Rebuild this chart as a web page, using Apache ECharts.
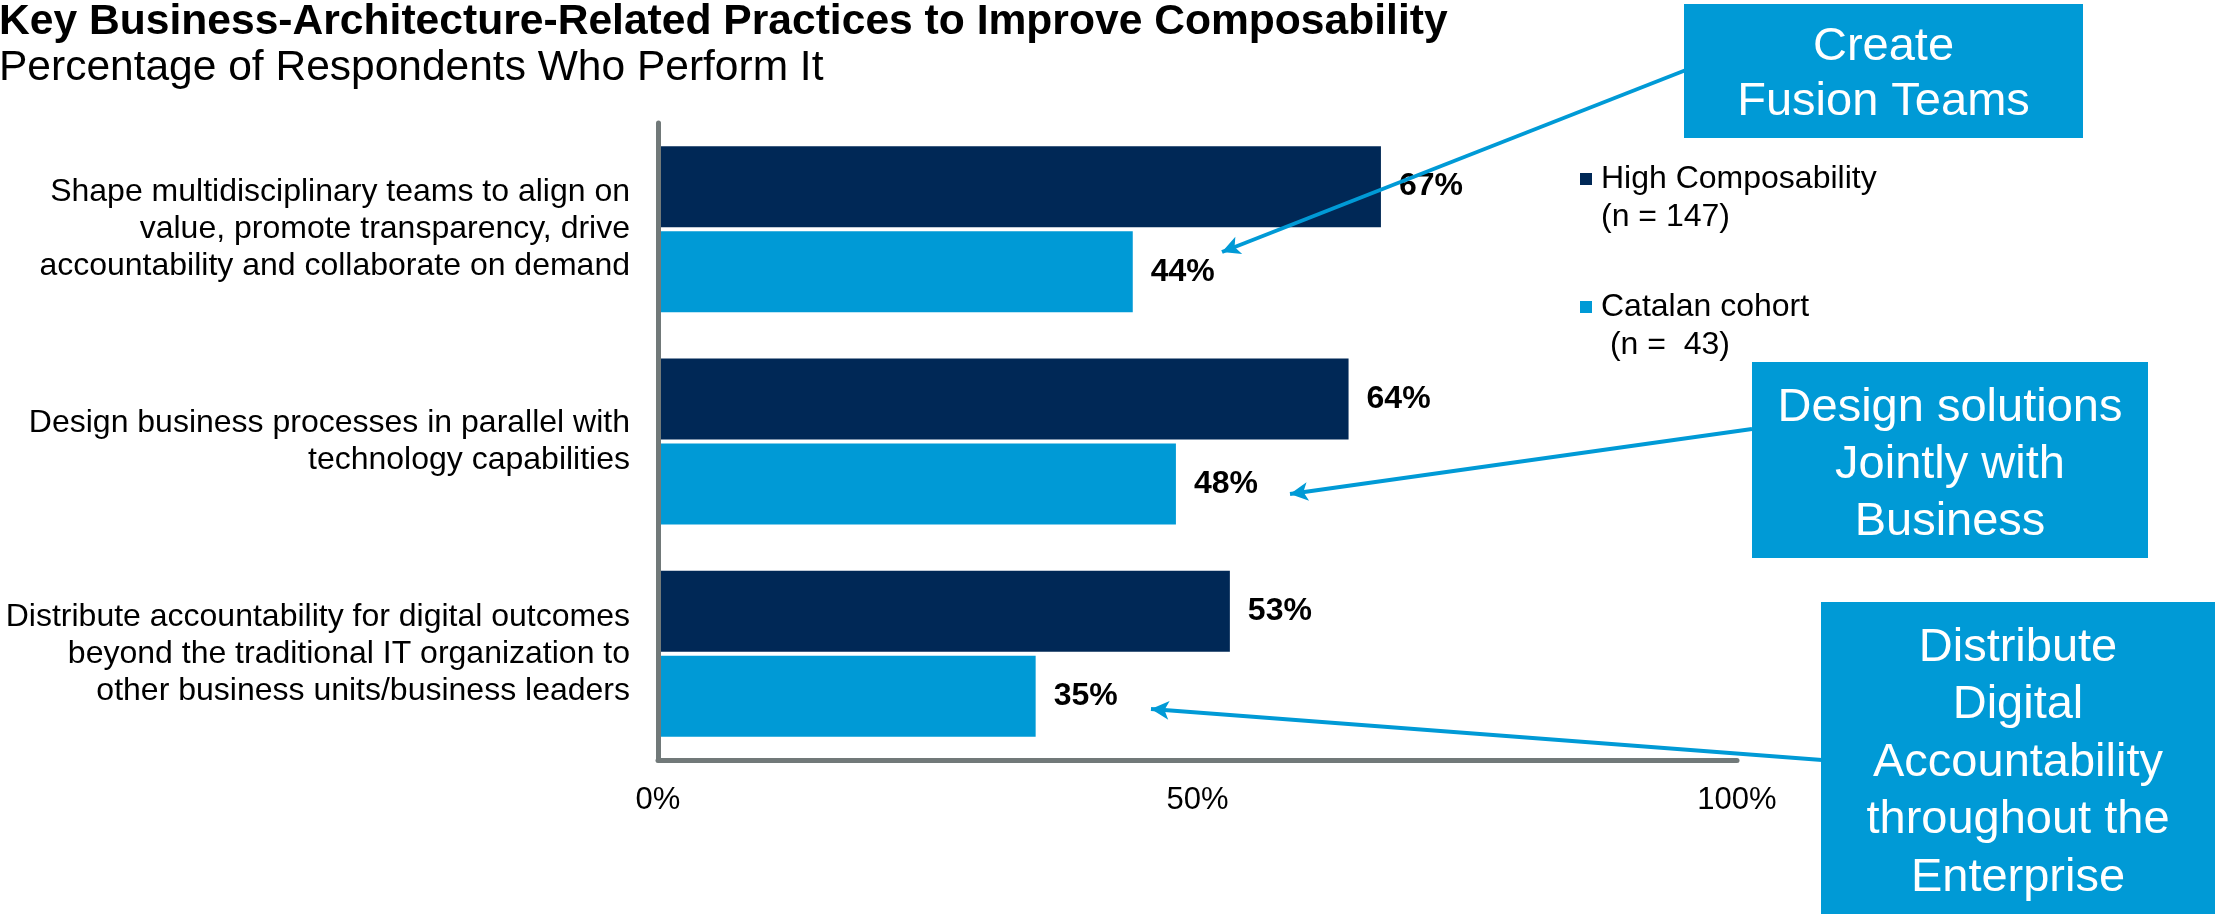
<!DOCTYPE html>
<html>
<head>
<meta charset="utf-8">
<script src="https://cdn.jsdelivr.net/npm/echarts@6/dist/echarts.min.js"></script>
<style>
html,body{margin:0;padding:0;background:#fff;}
#chart{width:2215px;height:914px;}
</style>
</head>
<body>
<div id="chart"></div>
<script>
const categories = [
  'Shape multidisciplinary teams to align on\nvalue, promote transparency, drive\naccountability and collaborate on demand',
  'Design business processes in parallel with\ntechnology capabilities',
  'Distribute accountability for digital outcomes\nbeyond the traditional IT organization to\nother business units/business leaders'
];
const seriesNames = ['High Composability\n(n = 147)', 'Catalan cohort\n (n =  43)'];
const highComposability = [67, 64, 53];
const catalanCohort = [44, 48, 35];
const xTickValues = [0, 50, 100];
const titleText = 'Key Business-Architecture-Related Practices to Improve Composability';
const subtitleText = 'Percentage of Respondents Who Perform It';
const calloutTexts = [
  'Create\nFusion Teams',
  'Design solutions\nJointly with\nBusiness',
  'Distribute\nDigital\nAccountability\nthroughout the\nEnterprise'
];

const FONT = "'Liberation Sans', Arial, Helvetica, sans-serif";
const NAVY = '#002856';
const BLUE = '#009AD6';
const AXIS = '#717979';

const chart = echarts.init(document.getElementById('chart'), null, {renderer: 'canvas'});

const option = {
  animation: false,
  backgroundColor: '#ffffff',
  textStyle: {fontFamily: FONT},
  title: [
    {text: titleText, left: -1, top: 1, padding: 0,
     textStyle: {fontFamily: FONT, fontSize: 42.6, fontWeight: 'bold', color: '#000', lineHeight: 43}},
    {text: subtitleText, left: -1, top: 47, padding: 0,
     textStyle: {fontFamily: FONT, fontSize: 42.5, fontWeight: 'normal', color: '#000', lineHeight: 43}}
  ],
  legend: {
    orient: 'vertical',
    left: 1580,
    top: 122,
    padding: 0,
    itemGap: 14,
    itemWidth: 12,
    itemHeight: 12,
    icon: 'rect',
    selectedMode: false,
    data: seriesNames,
    formatter: function (name) { return '\n' + name; },
    textStyle: {fontFamily: FONT, fontSize: 32, lineHeight: 38, color: '#000', padding: [0, 0, 0, 4]}
  },
  grid: {left: 658, top: 123, right: 478, bottom: 154, containLabel: false},
  xAxis: {
    type: 'value',
    min: xTickValues[0],
    max: xTickValues[xTickValues.length - 1],
    interval: xTickValues[1] - xTickValues[0],
    axisLine: {show: true, lineStyle: {color: AXIS, width: 5}},
    axisTick: {show: false},
    splitLine: {show: false},
    axisLabel: {formatter: '{value}%', fontFamily: FONT, fontSize: 31, color: '#000', margin: 25}
  },
  yAxis: {
    type: 'category',
    inverse: true,
    data: categories,
    z: 5,
    axisLine: {show: true, lineStyle: {color: AXIS, width: 5}},
    axisTick: {show: false},
    axisLabel: {fontFamily: FONT, fontSize: 32, lineHeight: 37, color: '#000', margin: 28, align: 'right'}
  },
  series: [
    {
      name: seriesNames[0],
      type: 'bar',
      data: highComposability,
      barWidth: 81,
      barGap: '5%',
      itemStyle: {color: NAVY},
      label: {show: true, position: 'right', distance: 18, formatter: '{c}%',
              fontFamily: FONT, fontSize: 32, fontWeight: 'bold', color: '#000'}
    },
    {
      name: seriesNames[1],
      type: 'bar',
      data: catalanCohort,
      barWidth: 81,
      barGap: '5%',
      itemStyle: {color: BLUE},
      label: {show: true, position: 'right', distance: 18, formatter: '{c}%',
              fontFamily: FONT, fontSize: 32, fontWeight: 'bold', color: '#000'},
      markLine: {
        silent: true,
        animation: false,
        z: 10,
        symbol: ['none', 'arrow'],
        symbolSize: [14, 18],
        label: {show: false},
        lineStyle: {color: BLUE, width: 4, type: 'solid'},
        emphasis: {disabled: true},
        data: [
          [{x: 1686, y: 70}, {x: 1222, y: 252}],
          [{x: 1752, y: 429}, {x: 1290, y: 494}],
          [{x: 1822, y: 760}, {x: 1151, y: 709}]
        ]
      }
    }
  ],
  graphic: [
    {type: 'rect', z: 20, shape: {x: 1684, y: 4, width: 399, height: 134}, style: {fill: BLUE}},
    {type: 'text', z: 21, x: 1883.5, y: 75, style: {text: calloutTexts[0], fill: '#fff',
      font: '47px ' + FONT, lineHeight: 55, align: 'center', verticalAlign: 'middle'}},
    {type: 'rect', z: 20, shape: {x: 1752, y: 362, width: 396, height: 196}, style: {fill: BLUE}},
    {type: 'text', z: 21, x: 1950, y: 465, style: {text: calloutTexts[1], fill: '#fff',
      font: '47px ' + FONT, lineHeight: 57, align: 'center', verticalAlign: 'middle'}},
    {type: 'rect', z: 20, shape: {x: 1821, y: 602, width: 400, height: 320}, style: {fill: BLUE}},
    {type: 'text', z: 21, x: 2018, y: 763, style: {text: calloutTexts[2], fill: '#fff',
      font: '47px ' + FONT, lineHeight: 57.5, align: 'center', verticalAlign: 'middle'}}
  ]
};
chart.setOption(option);
</script>
</body>
</html>
